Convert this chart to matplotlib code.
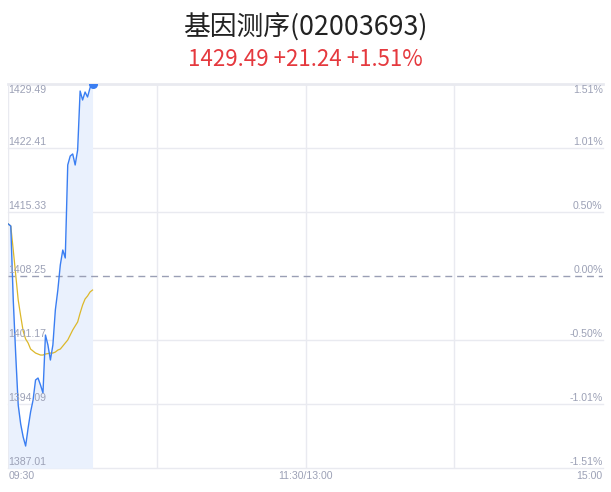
import numpy as np
import matplotlib
matplotlib.use("Agg")
from matplotlib import pyplot as plt

plt.rcParams['font.family'] = ['Noto Sans CJK SC', 'DejaVu Sans']

title = "基因测序(02003693)"
subtitle = "1429.49 +21.24 +1.51%"
prev_close = 1408.25

# one value per minute from 09:30
price = [1413.99, 1413.77, 1405.60, 1399.52, 1394.00, 1391.90, 1390.47, 1389.47,
         1391.46, 1393.23, 1394.55, 1396.76, 1396.98, 1396.21, 1395.33, 1401.73,
         1400.63, 1398.97, 1400.63, 1404.50, 1406.70, 1409.47, 1411.12, 1410.24,
         1420.51, 1421.50, 1421.73, 1420.51, 1422.17, 1428.68, 1427.69, 1428.57,
         1428.02, 1429.02, 1429.49]
avg_price = [1413.99, 1413.77, 1411.12, 1408.36, 1405.60, 1403.83, 1402.17, 1401.29,
             1400.85, 1400.18, 1399.96, 1399.74, 1399.63, 1399.52, 1399.52, 1399.63,
             1399.68, 1399.74, 1399.74, 1399.85, 1400.07, 1400.18, 1400.51, 1400.85,
             1401.18, 1401.73, 1402.28, 1402.73, 1403.17, 1404.16, 1405.04, 1405.71,
             1406.04, 1406.48, 1406.70]

y_ticks = [1429.49, 1422.41, 1415.33, 1408.25, 1401.17, 1394.09, 1387.01]
pct_labels = ["1.51%", "1.01%", "0.50%", "0.00%", "-0.50%", "-1.01%", "-1.51%"]
x_grid = [0, 60, 120, 180]
x_ticks = [0, 120, 240]
x_labels = ["09:30", "11:30/13:00", "15:00"]

grid_color = '#e9eaf0'
label_color = '#9ca1b6'
label_font = ['Liberation Sans', 'DejaVu Sans']

minutes = np.arange(len(price))

fig = plt.figure(figsize=(6.11, 4.92), dpi=100)
ax = fig.add_axes([8.3 / 611, 23.7 / 492, 594.4 / 611, 384.6 / 492])
ax.set_xlim(0, 240)
ax.set_ylim(y_ticks[-1], y_ticks[0])
for s in ax.spines.values():
    s.set_visible(False)
ax.set_xticks([])
ax.set_yticks([])

for i, y in enumerate(y_ticks):
    if y == prev_close:
        ax.axhline(y, color='#9a9fb5', lw=1, ls=(0, (5, 3.5)), zorder=3)
    else:
        ax.axhline(y, color=grid_color, lw=2 if i == 0 else 1, zorder=0, clip_on=False)
for x in x_grid:
    ax.axvline(x, color=grid_color, lw=1, zorder=0)

ax.fill_between(minutes, price, y_ticks[-1], color='#eaf1fd', lw=0, zorder=1)
ax.plot(minutes, avg_price, color='#dcb82a', lw=0.9, zorder=2)
ax.plot(minutes, price, color='#3a7ef2', lw=1.0, zorder=4)
ax.scatter([minutes[-1]], [price[-1]], s=30, color='#3a7ef2', zorder=5)

for i, (y, p) in enumerate(zip(y_ticks, pct_labels)):
    if i == 0:
        va, dy = 'top', -1
    else:
        va, dy = 'bottom', 1
    ax.annotate("%.2f" % y, xy=(0, y), xycoords=('axes fraction', 'data'),
                xytext=(0, dy), textcoords='offset pixels', ha='left', va=va,
                fontsize=7.6, color=label_color, family=label_font, zorder=6)
    ax.annotate(p, xy=(1, y), xycoords=('axes fraction', 'data'),
                xytext=(0, dy), textcoords='offset pixels', ha='right', va=va,
                fontsize=7.6, color=label_color, family=label_font, zorder=6)

for x, lab, ha in zip(x_ticks, x_labels, ['left', 'center', 'right']):
    ax.annotate(lab, xy=(x, 0), xycoords=('data', 'axes fraction'),
                xytext=(0, -8), textcoords='offset pixels', ha=ha, va='center',
                fontsize=7.6, color=label_color, family=label_font)

fig.text(0.5, 1 - 26.5 / 492, title, ha='center', va='center',
         fontsize=19.3, color='#222222')
fig.text(0.5, 1 - 60 / 492, subtitle, ha='center', va='center',
         fontsize=16, color='#e5393e')

fig.savefig('out.png', dpi=100)
